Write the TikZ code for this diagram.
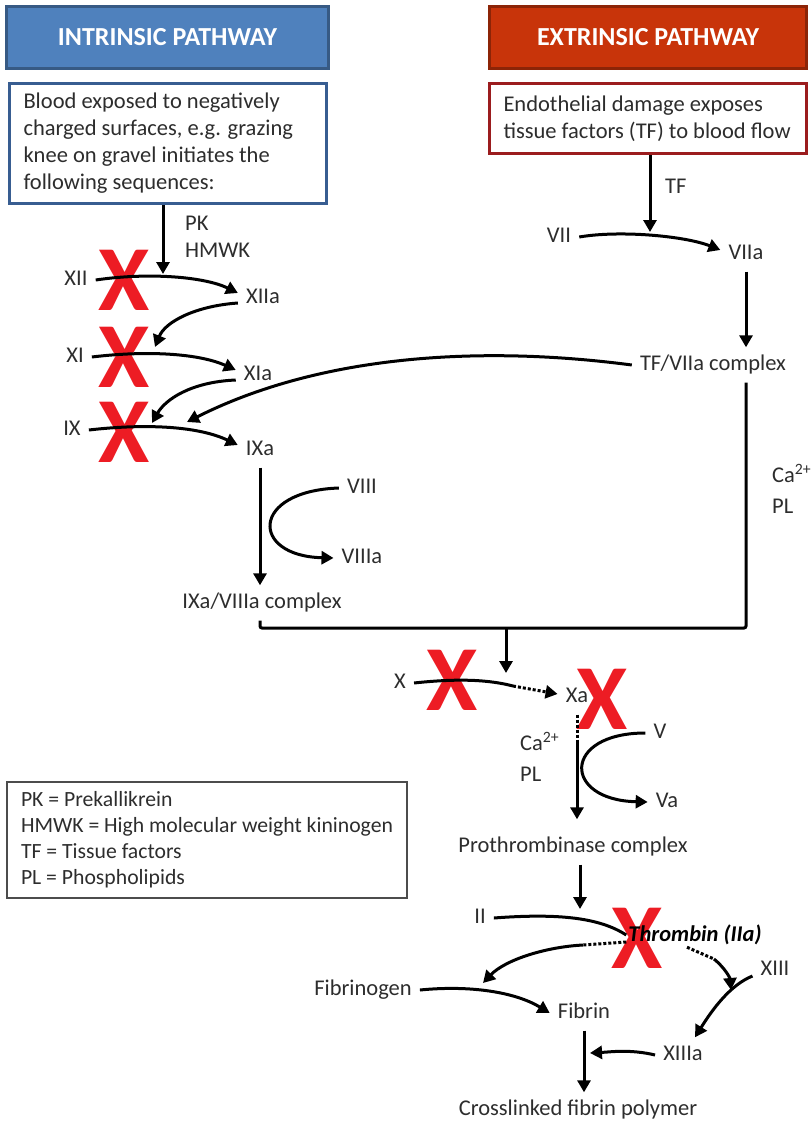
\documentclass[tikz,border=0pt]{standalone}
\usepackage{fontspec}
\setmainfont{Carlito}
\usetikzlibrary{arrows.meta,positioning}
\definecolor{intblue}{RGB}{79,129,189}
\definecolor{intborder}{RGB}{56,93,145}
\definecolor{extred}{RGB}{200,52,10}
\definecolor{extborder}{RGB}{155,28,30}
\definecolor{blockred}{RGB}{237,28,36}
\definecolor{inkgrey}{RGB}{45,45,45}

\begin{document}
\begin{tikzpicture}[
    x=1pt, y=-1pt,
    every node/.style={text=inkgrey, font=\fontsize{22.5}{27}\selectfont},
    header/.style={draw=#1!70!black, fill=#1, line width=3pt, minimum height=62pt,
                   text=white, font=\fontsize{26}{30}\selectfont\bfseries},
    infobox/.style={draw=#1, fill=white, line width=3pt, align=flush left,
                    inner xsep=14pt, text width=289pt},
    lbl/.style={inner xsep=8pt, inner ysep=8pt, text height=15pt, text depth=4pt},
    arr/.style={line width=3pt, black, -{Triangle[length=12pt,width=13pt]}},
    link/.style={line width=3pt, black},
    dots/.style={line width=3pt, black, dash pattern=on 3pt off 2pt},
    stopmark/.style={text=blockred, inner sep=0pt, font=\fontsize{93}{93}\selectfont\bfseries}
]
\useasboundingbox (0,0) rectangle (811,1121);

% red blocking marks first, lines go over them
\node[stopmark] (sxii) at (124,280) {X};
\node[stopmark] (sxi) at (124,357) {X};
\node[stopmark] (six) at (124,432) {X};
\node[stopmark] (sx) at (452,680) {X};
\node[stopmark] (sxa) at (602,699) {X};
\node[stopmark] (sthr) at (637,938) {X};

% pathway headers and starting boxes
\node[header=intblue, minimum width=322pt] (inthead) at (167.5,37.5) {INTRINSIC PATHWAY};
\node[header=extred, minimum width=317pt] (exthead) at (648,37.5) {EXTRINSIC PATHWAY};
\node[infobox=intborder, minimum height=120pt] (intbox) at (168,143.5)
    {Blood exposed to negatively\\charged surfaces, e.g. grazing\\knee on gravel initiates the\\following sequences:};
\node[infobox=extborder, minimum height=70pt] (extbox) at (648,118.5)
    {Endothelial damage exposes\\tissue factors (TF) to blood flow};

% legend
\node[draw=black!70, line width=2pt, align=flush left, inner xsep=14pt, text width=372pt,
      minimum height=116pt, font=\fontsize{21.7}{26}\selectfont] (legend) at (207,840)
    {PK = Prekallikrein\\HMWK = High molecular weight kininogen\\TF = Tissue factors\\PL = Phospholipids};

% intrinsic factors
\node[lbl, anchor=west] (pk) at (177,225) {PK};
\node[lbl, anchor=west] (hmwk) at (177,252) {HMWK};
\node[lbl] (xii) at (76,280) {XII};
\node[lbl] (xiia) at (263,298) {XIIa};
\node[lbl] (xi) at (75,357) {XI};
\node[lbl] (xia) at (258,375) {XIa};
\node[lbl] (ix) at (72,430) {IX};
\node[lbl] (ixa) at (260,450) {IXa};
\node[lbl] (viii) at (362,488) {VIII};
\node[lbl] (viiia) at (362,558) {VIIIa};
\node[lbl] (ixcplx) at (262,603) {IXa/VIIIa complex};

% extrinsic factors
\node[lbl, anchor=west] (tf) at (657,188) {TF};
\node[lbl] (vii) at (559,237) {VII};
\node[lbl] (viia) at (746,254) {VIIa};
\node[lbl] (tfcplx) at (713,365) {TF/VIIa complex};
\node[lbl, anchor=west] (car) at (764,477) {Ca\textsuperscript{2+}};
\node[lbl, anchor=west] (plr) at (764,508) {PL};

% common pathway
\node[lbl] (fx) at (400,683) {X};
\node[lbl] (fxa) at (577,697) {Xa};
\node[lbl, anchor=west] (cal) at (512,745) {Ca\textsuperscript{2+}};
\node[lbl, anchor=west] (pll) at (512,776) {PL};
\node[lbl] (fv) at (660,733) {V};
\node[lbl] (fva) at (667,802) {Va};
\node[lbl] (prot) at (573,847) {Prothrombinase complex};
\node[lbl] (fii) at (480,918) {II};
\node[inner sep=2pt, text=black, font=\fontsize{22.5}{27}\selectfont\bfseries\itshape] (thr) at (695,935) {Thrombin (IIa)};
\node[lbl] (fgen) at (363,990) {Fibrinogen};
\node[lbl] (fibrin) at (584,1013) {Fibrin};
\node[lbl] (xiii) at (775,970) {XIII};
\node[lbl] (xiiia) at (683,1055) {XIIIa};
\node[lbl] (xlink) at (578,1110) {Crosslinked fibrin polymer};

% free ends of connectors
\coordinate (pkin) at (163,274);
\coordinate (xiin) at (155,347);
\coordinate (ixin) at (152,423);
\coordinate (tfin) at (187,422);
\coordinate (tfarr) at (650,232);
\coordinate (join) at (506,628);
\coordinate (xin) at (506,673);
\coordinate (xbreak) at (513,686);
\coordinate (xabreak) at (577,742);
\coordinate (iiin) at (580,909);
\coordinate (thrl) at (583,945);
\coordinate (thrr) at (714,959);
\coordinate (fbin) at (483,983);
\coordinate (xiiiin) at (731,990);
\coordinate (flin) at (590,1053);

% intrinsic cascade
\draw[arr] (intbox.south -| pkin) -- (pkin);
\draw[arr] (xii.east) .. controls (150,272) and (205,277) .. ([yshift=5pt]xiia.west);
\draw[arr] ([yshift=-5pt]xiia.west) .. controls (195,306) and (165,322) .. (xiin);
\draw[arr] (xi.east) .. controls (150,350) and (200,354) .. ([yshift=5pt]xia.west);
\draw[arr] ([yshift=-5pt]xia.west) .. controls (190,382) and (165,400) .. (ixin);
\draw[arr] (ix.east) .. controls (150,423) and (200,427) .. ([yshift=5pt]ixa.west);
\draw[arr] (ixa.south) -- (ixa.south |- ixcplx.north);
\draw[arr] (viii.west) .. controls (250,491) and (250,556) .. (viiia.west);

% extrinsic cascade
\draw[arr] (extbox.south -| tfarr) -- (tfarr);
\draw[arr] (vii.east) .. controls (620,230) and (685,236) .. ([yshift=4pt]viia.west);
\draw[arr] (viia.south) -- (viia.south |- tfcplx.north);
\draw[arr] (tfcplx.west) .. controls (480,345) and (320,355) .. (tfin);

% both pathways join on X
\draw[link, rounded corners=2pt] (ixa.south |- ixcplx.south) |- (join) -| (tfcplx.south -| viia);
\draw[arr] (join) -- (xin);
\draw[link] (fx.east) .. controls (460,678) and (490,680) .. (xbreak);
\draw[dots, -{Triangle[length=12pt,width=13pt]}] (xbreak) -- ([yshift=3pt]fxa.west);
\draw[dots] (fxa.south) -- (xabreak);
\draw[arr, shorten >=10pt] (xabreak) -- (prot.north -| xabreak);
\draw[arr] (fv.west) .. controls (562,733) and (562,800) .. (fva.west);
\draw[arr] (prot.south -| iiin) -- (iiin);

% thrombin and fibrin
\draw[link] (fii.east) .. controls (560,913) and (600,918) .. (thr.west);
\draw[dots] ([yshift=-7pt]thr.west) -- (thrl);
\draw[arr] (thrl) .. controls (545,947) and (505,960) .. (fbin);
\draw[dots] ([xshift=-8pt]thr.south) -- (thrr);
\draw[arr] (thrr) .. controls (725,968) and (730,978) .. (xiiiin);
\draw[arr] ([yshift=-6pt]xiii.west) .. controls (730,985) and (712,1010) .. ([xshift=12pt]xiiia.north);
\draw[arr] (fgen.east) .. controls (470,985) and (515,992) .. (fibrin.west);
\draw[arr] (fibrin.south) -- (fibrin.south |- xlink.north);
\draw[arr] (xiiia.west) .. controls (630,1049) and (610,1052) .. (flin);

\end{tikzpicture}
\end{document}
